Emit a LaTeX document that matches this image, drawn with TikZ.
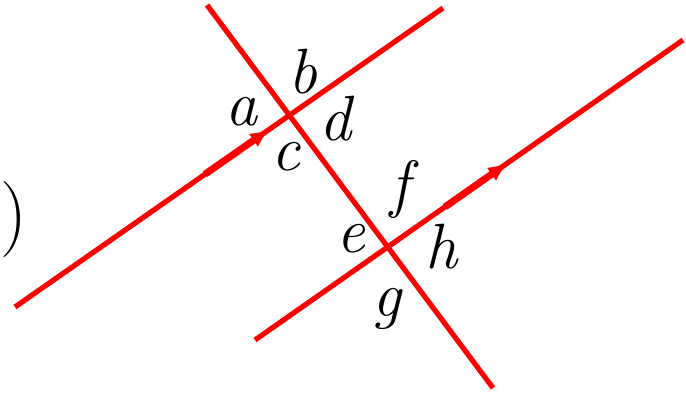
\documentclass[tikz,border=0pt]{standalone}
\usetikzlibrary{arrows.meta}
\begin{document}
\begin{tikzpicture}[x=1pt,y=-1pt,
  redline/.style={draw=red,line width=5.2pt},
  arrowseg/.style={draw=red,line width=7pt,-{Latex[length=20pt,width=16pt]}},
  lbl/.style={inner sep=0pt,anchor=base,font=\fontsize{64}{76}\selectfont\itshape}]
\useasboundingbox (0,0) rectangle (686,392);
% endpoints
\coordinate (L1a) at (15,307);
\coordinate (L1b) at (443,8);
\coordinate (L2a) at (255,340);
\coordinate (L2b) at (683,40);
\coordinate (Ta) at (207,5);
\coordinate (Tb) at (493,388);
\coordinate (A1s) at (205,174.2);
\coordinate (A1e) at (270,128.8);
\coordinate (A2s) at (445,206.9);
\coordinate (A2e) at (508,162.7);
\draw[redline] (L1a) -- (L1b);
\draw[redline] (L2a) -- (L2b);
\draw[redline] (Ta) -- (Tb);
\draw[arrowseg] (A1s) -- (A1e);
\draw[arrowseg] (A2s) -- (A2e);
% labels
\node[lbl] (la) at (241,125) {a};
\node[lbl] (lb) at (303,93) {b};
\node[lbl] (lc) at (286,170) {c};
\node[lbl] (ld) at (335,140) {d};
\node[lbl] (lf) at (400,205) {f};
\node[lbl] (le) at (351,252) {e};
\node[lbl] (lh) at (441,268) {h};
\node[lbl] (lg) at (387,316) {g};
\node[inner sep=0pt,anchor=base,font=\fontsize{76}{90}\selectfont] (paren) at (14,238) {)};
\end{tikzpicture}
\end{document}
